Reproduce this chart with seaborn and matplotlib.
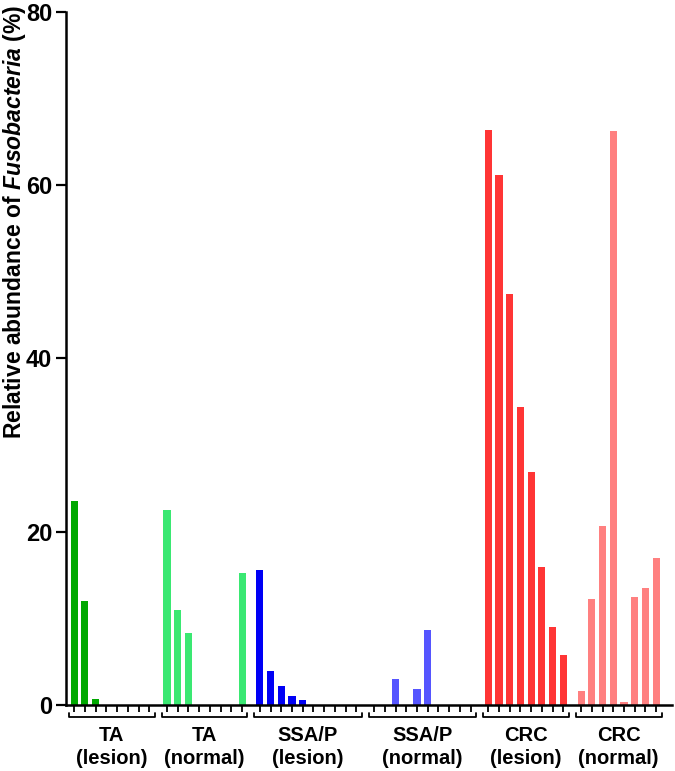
import numpy as np
import pandas as pd
import matplotlib
matplotlib.use("Agg")
import matplotlib.pyplot as plt
import matplotlib.transforms as mtransforms
import seaborn as sns

sns.set_style("white")
plt.rcParams['font.family'] = ['Liberation Sans', 'DejaVu Sans']
plt.rcParams['text.color'] = 'black'
plt.rcParams['xtick.color'] = 'black'
plt.rcParams['ytick.color'] = 'black'
plt.rcParams['mathtext.fontset'] = 'custom'
plt.rcParams['mathtext.rm'] = 'Liberation Sans:bold'
plt.rcParams['mathtext.it'] = 'Liberation Sans:italic:bold'

# relative abundance per sample (%)
groups = ["TA\n(lesion)", "TA\n(normal)", "SSA/P\n(lesion)", "SSA/P\n(normal)", "CRC\n(lesion)", "CRC\n(normal)"]
ta_lesion = [23.6, 12.0, 0.7, 0, 0, 0, 0, 0]
ta_normal = [22.5, 11.0, 8.3, 0, 0, 0, 0, 15.2]
ssa_lesion = [15.6, 3.9, 2.2, 1.0, 0.6, 0, 0, 0, 0, 0]
ssa_normal = [0, 0, 3.0, 0, 1.8, 8.7, 0, 0, 0, 0]
crc_lesion = [66.4, 61.2, 47.4, 34.4, 26.9, 15.9, 9.0, 5.8]
crc_normal = [1.6, 12.2, 20.7, 66.3, 0.3, 12.5, 13.5, 17.0]
colors = ['#00A800', '#3AE872', '#0000F5', '#5555FF', '#FF3535', '#FF8080']

series = [ta_lesion, ta_normal, ssa_lesion, ssa_normal, crc_lesion, crc_normal]

# layout: one slot per sample, a gap between groups
gap = 1.65
rows = []
spans = []
start = 0.0
for g, vals in zip(groups, series):
    pos = start + np.arange(len(vals))
    for p, v in zip(pos, vals):
        rows.append({'pos': p, 'value': v, 'group': g})
    spans.append((pos[0], pos[-1]))
    start = pos[-1] + gap
df = pd.DataFrame(rows)

fig = plt.figure(figsize=(6.75, 7.71), dpi=100)
ax = fig.add_axes([0.098, 0.0856, 0.898, 0.899])

sns.barplot(data=df, x='pos', y='value', hue='group', palette=colors,
            native_scale=True, dodge=False, width=0.66, legend=False,
            saturation=1, linewidth=0, ax=ax)

ax.set_ylim(0, 80)
ax.set_xlim(-0.75, spans[-1][1] + 1.5)
ax.set_yticks([0, 20, 40, 60, 80])
ax.set_yticklabels(['0', '20', '40', '60', '80'], fontsize=17, fontweight='bold')
ax.set_xticks(df['pos'])
ax.set_xticklabels([])
ax.tick_params(axis='y', direction='out', length=7, width=1.6, pad=3, left=True)
ax.tick_params(axis='x', direction='out', length=5, width=1.3, bottom=True)
ax.set_xlabel('')
ax.set_ylabel('')
sns.despine(ax=ax)
for s in ['left', 'bottom']:
    ax.spines[s].set_linewidth(1.8)
    ax.spines[s].set_color('black')

# group brackets and labels below axis
trans = mtransforms.blended_transform_factory(ax.transData, ax.transAxes)
for g, (a, b) in zip(groups, spans):
    x0, x1 = a - 0.5, b + 0.5
    ax.plot([x0, x0, x1, x1], [-0.011, -0.018, -0.018, -0.011], color='black',
            lw=1.3, transform=trans, clip_on=False)
    ax.text((a + b) / 2, -0.031, g, transform=trans, ha='center', va='top',
            fontsize=14.5, fontweight='bold', linespacing=1.25)

fig.text(0.021, 0.712, r'Relative abundance of $\it{Fusobacteria}$ (%)',
         rotation=90, ha='center', va='center', fontsize=16.5, fontweight='bold')

fig.savefig('out.png', dpi=100)
